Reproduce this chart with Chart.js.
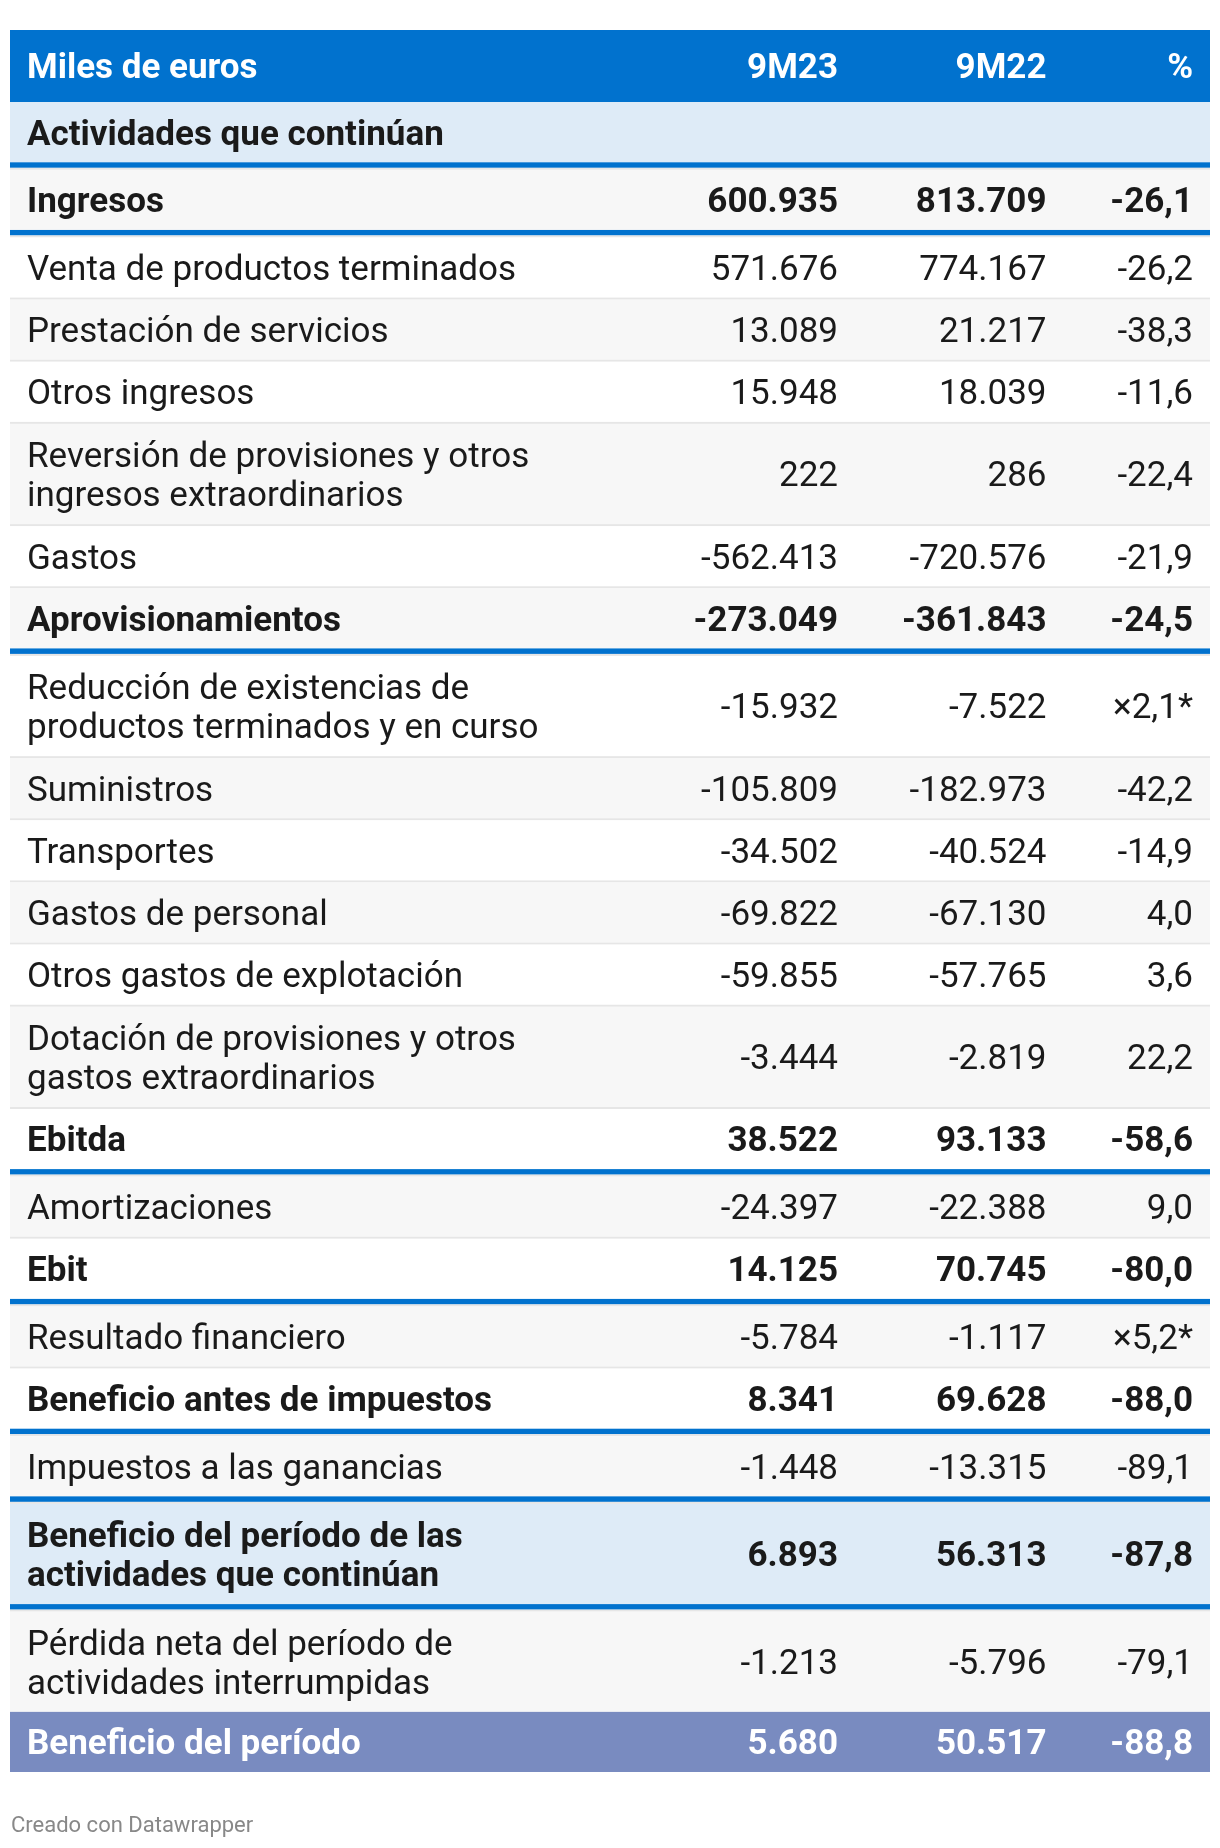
<!DOCTYPE html>
<html>
<head>
<meta charset="utf-8">
<script src="https://cdn.jsdelivr.net/npm/chart.js@4.4.0/dist/chart.umd.min.js"></script>
<style>
  html, body { margin: 0; background: #fff; }
  canvas { display: block; }
</style>
</head>
<body>
<canvas id="tabla" width="1220" height="1848"></canvas>
<script>
// cabecera
var columnas = ['Miles de euros', '9M23', '9M22', '%'];

// filas (\n = salto de linea)
var conceptos = [
  'Actividades que continúan',
  'Ingresos',
  'Venta de productos terminados',
  'Prestación de servicios',
  'Otros ingresos',
  'Reversión de provisiones y otros\ningresos extraordinarios',
  'Gastos',
  'Aprovisionamientos',
  'Reducción de existencias de\nproductos terminados y en curso',
  'Suministros',
  'Transportes',
  'Gastos de personal',
  'Otros gastos de explotación',
  'Dotación de provisiones y otros\ngastos extraordinarios',
  'Ebitda',
  'Amortizaciones',
  'Ebit',
  'Resultado financiero',
  'Beneficio antes de impuestos',
  'Impuestos a las ganancias',
  'Beneficio del período de las\nactividades que continúan',
  'Pérdida neta del período de\nactividades interrumpidas',
  'Beneficio del período'
];

var valores9M23 = [null, 600935, 571676, 13089, 15948, 222, -562413, -273049, -15932, -105809, -34502,
  -69822, -59855, -3444, 38522, -24397, 14125, -5784, 8341, -1448, 6893, -1213, 5680];
var valores9M22 = [null, 813709, 774167, 21217, 18039, 286, -720576, -361843, -7522, -182973, -40524,
  -67130, -57765, -2819, 93133, -22388, 70745, -1117, 69628, -13315, 56313, -5796, 50517];
// variacion en %; donde va null se muestra el multiplicador
var variacion = [null, -26.1, -26.2, -38.3, -11.6, -22.4, -21.9, -24.5, null, -42.2, -14.9,
  4.0, 3.6, 22.2, -58.6, 9.0, -80.0, null, -88.0, -89.1, -87.8, -79.1, -88.8];
var multiplicador = [null, null, null, null, null, null, null, null, 2.1, null, null,
  null, null, null, null, null, null, 5.2, null, null, null, null, null];

// estilo de cada fila
var tipoFila = ['seccion', 'negrita', '', '', '', '', '', 'negrita', '', '', '', '', '', '',
  'negrita', '', 'negrita', '', 'negrita', '', 'seccion', '', 'final'];
var lineaAzul = [0, 1, 7, 14, 16, 18, 19, 20];

// --- medidas ---
var AZUL = '#0172ce';
var FUENTE = 'Roboto, "Noto Sans", sans-serif';
var TAM = 35, BASE = 12.4;                 // tamaño de letra y bajada a la linea base
var altoCabecera = 72, altoLinea = 39;
var grosorGris = 2, grosorAzul = 5.5;
var xTexto = 17, xCols = [828, 1036.5, 1183];   // en unidades de la escala x (0..1200)

function miles(n) {
  var s = Math.abs(n).toString().replace(/\B(?=(\d{3})+(?!\d))/g, '.');
  return (n < 0 ? '-' : '') + s;
}
function decimal(n) {
  return n.toFixed(1).replace('.', ',');
}

// posiciones verticales (en unidades de la escala y)
var filas = [];
var yAcum = altoCabecera;
conceptos.forEach(function (c, i) {
  var lineas = c.split('\n');
  var alto = lineas.length === 1 ? 60 : 100;
  filas.push({ top: yAcum, bottom: yAcum + alto, lineas: lineas, sep: [] });
  yAcum += alto;
  if (lineaAzul.indexOf(i) >= 0) {
    filas[i].sep.push([yAcum, yAcum + grosorAzul, AZUL]);
    yAcum += grosorAzul;
  }
  if (i < conceptos.length - 2) {
    filas[i].sep.push([yAcum, yAcum + grosorGris, '#e6e6e6']);
    yAcum += grosorGris;
  }
});
var altoTotal = yAcum;

var tablaPlugin = {
  id: 'tablaPlugin',
  beforeDraw: function (chart) {
    var ctx = chart.ctx, sx = chart.scales.x, sy = chart.scales.y;
    var x0 = sx.getPixelForValue(0), x1 = sx.getPixelForValue(1200);
    ctx.save();

    // cabecera
    var h0 = sy.getPixelForValue(0), h1 = sy.getPixelForValue(altoCabecera);
    ctx.fillStyle = AZUL;
    ctx.fillRect(x0, h0, x1 - x0, h1 - h0);
    ctx.font = 'bold ' + TAM + 'px ' + FUENTE;
    ctx.fillStyle = '#ffffff';
    ctx.textBaseline = 'alphabetic';
    var yb = (h0 + h1) / 2 + BASE;
    ctx.textAlign = 'left';
    ctx.fillText(columnas[0], sx.getPixelForValue(xTexto), yb);
    ctx.textAlign = 'right';
    for (var c = 1; c < 4; c++) ctx.fillText(columnas[c], sx.getPixelForValue(xCols[c - 1]), yb);

    filas.forEach(function (f, i) {
      var t = sy.getPixelForValue(f.top), b = sy.getPixelForValue(f.bottom);
      var tipo = tipoFila[i];
      var fondo = i % 2 === 1 ? '#f7f7f7' : '#ffffff';
      if (tipo === 'seccion') fondo = '#deebf7';
      if (tipo === 'final') fondo = '#798bc0';
      ctx.fillStyle = fondo;
      ctx.fillRect(x0, t, x1 - x0, b - t);
      f.sep.forEach(function (s) {
        var s0 = sy.getPixelForValue(s[0]), s1 = sy.getPixelForValue(s[1]);
        ctx.fillStyle = s[2];
        ctx.fillRect(x0, s0, x1 - x0, s1 - s0);
      });

      var negrita = tipo !== '';
      ctx.font = (negrita ? 'bold ' : '') + TAM + 'px ' + FUENTE;
      ctx.fillStyle = tipo === 'final' ? '#ffffff' : '#1a1a1a';
      var centro = (t + b) / 2;
      var n = f.lineas.length;
      ctx.textAlign = 'left';
      f.lineas.forEach(function (l, k) {
        ctx.fillText(l, sx.getPixelForValue(xTexto), centro + (k - (n - 1) / 2) * altoLinea + BASE);
      });
      var yv = centro + BASE;
      ctx.textAlign = 'right';
      if (valores9M23[i] !== null) ctx.fillText(miles(valores9M23[i]), sx.getPixelForValue(xCols[0]), yv);
      if (valores9M22[i] !== null) ctx.fillText(miles(valores9M22[i]), sx.getPixelForValue(xCols[1]), yv);
      var pct = variacion[i] !== null ? decimal(variacion[i])
        : (multiplicador[i] !== null ? '×' + decimal(multiplicador[i]) + '*' : '');
      if (pct) ctx.fillText(pct, sx.getPixelForValue(xCols[2]), yv);
    });

    // pie
    ctx.font = '22px ' + FUENTE;
    ctx.fillStyle = '#888888';
    ctx.textAlign = 'left';
    ctx.fillText('Creado con Datawrapper', x0 + 1, chart.chartArea.bottom + 60);
    ctx.restore();
  }
};

new Chart(document.getElementById('tabla').getContext('2d'), {
  type: 'scatter',
  data: { datasets: [] },
  options: {
    responsive: false,
    animation: false,
    devicePixelRatio: 1,
    layout: { padding: { left: 10, right: 10, top: 30, bottom: 76 } },
    plugins: { legend: { display: false }, tooltip: { enabled: false } },
    scales: {
      x: { type: 'linear', min: 0, max: 1200, display: false },
      y: { type: 'linear', min: 0, max: altoTotal, reverse: true, display: false }
    }
  },
  plugins: [tablaPlugin]
});
</script>
</body>
</html>
